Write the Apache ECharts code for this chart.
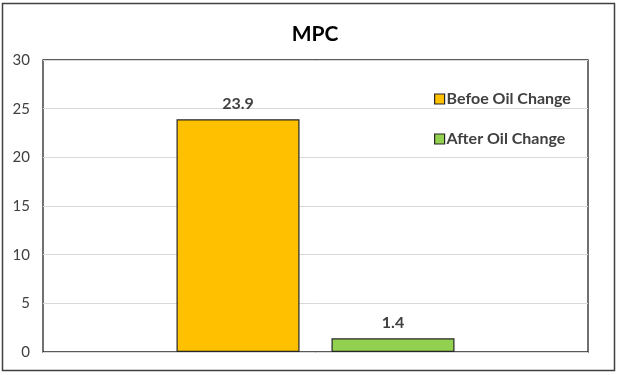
<!DOCTYPE html>
<html><head><meta charset="utf-8">
<script src="https://cdn.jsdelivr.net/npm/echarts@6/dist/echarts.min.js"></script>
<style>html,body{margin:0;padding:0;background:#fff}#c{width:622px;height:375px}</style>
</head><body><div id="c"></div>
<script>
var categories = ['MPC'];
var seriesNames = ['Befoe Oil Change', 'After Oil Change'];
var beforeValues = [23.9];
var afterValues = [1.4];
var yTicks = [0, 5, 10, 15, 20, 25, 30];

var chart = echarts.init(document.getElementById('c'));
var font = 'Lato, "Open Sans", sans-serif';
chart.setOption({
  animation: false,
  title: { text: 'MPC', left: 310, top: 19, textAlign: 'center',
    textStyle: { fontFamily: font, fontSize: 21, fontWeight: 'bold', color: '#000' } },
  graphic: [{ type: 'rect', shape: { x: 2.5, y: 3.5, width: 612, height: 367 },
    style: { fill: null, stroke: '#404040', lineWidth: 1.5 }, silent: true }],
  legend: { orient: 'vertical', left: 429, top: 86, itemWidth: 10, itemHeight: 10, itemGap: 24,
    icon: 'rect', data: seriesNames,
    itemStyle: { borderColor: '#262626', borderWidth: 1.2 },
    textStyle: { fontFamily: font, fontSize: 16, fontWeight: 'bold', color: '#404040', padding: [0,0,0,-3] } },
  grid: { left: 43, right: 34, top: 60, bottom: 23, show: true, borderColor: '#262626', borderWidth: 1.3 },
  xAxis: { type: 'category', data: categories, axisLabel: { show: false }, axisTick: { show: false },
    axisLine: { show: false } },
  yAxis: { type: 'value', min: 0, max: 30, interval: 5,
    axisLine: { show: false }, axisTick: { show: false },
    axisLabel: { fontFamily: font, fontSize: 15, color: '#404040', margin: 13,
      formatter: function (v) { return yTicks.indexOf(v) >= 0 ? String(v) : ''; } },
    splitLine: { lineStyle: { color: '#d9d9d9', width: 1 } } },
  series: [
    { name: seriesNames[0], type: 'bar', data: beforeValues, barWidth: 123, barGap: '26%',
      itemStyle: { color: '#FFC000', borderColor: '#262626', borderWidth: 1.2 },
      label: { show: true, position: 'top', distance: 8, fontFamily: font, fontSize: 16, fontWeight: 'bold', color: '#404040' } },
    { name: seriesNames[1], type: 'bar', data: afterValues, barWidth: 123,
      itemStyle: { color: '#92D050', borderColor: '#262626', borderWidth: 1.2 },
      label: { show: true, position: 'top', distance: 8, fontFamily: font, fontSize: 16, fontWeight: 'bold', color: '#404040' } }
  ]
});
</script></body></html>
